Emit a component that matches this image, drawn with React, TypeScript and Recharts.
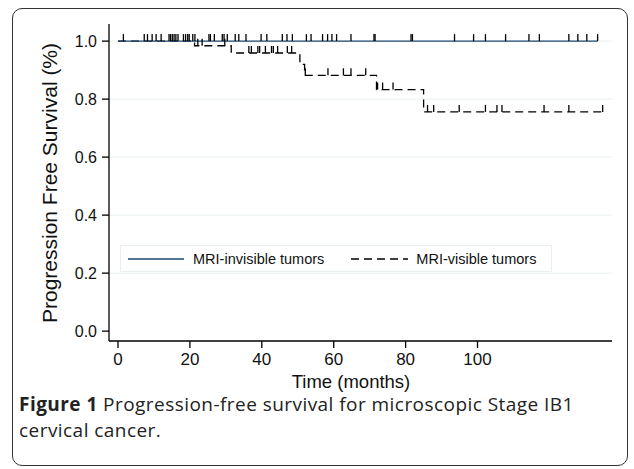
import { ComposedChart, Line, Scatter, XAxis, YAxis, CartesianGrid, Legend } from 'recharts';

// Kaplan-Meier steps (months, survival)
const invisibleTimes = [0, 133.4];
const invisibleSurv = [1, 1];
const visibleTimes = [0, 21.3, 31.5, 50.6, 51.9, 71.9, 85.0, 134.8];
const visibleSurv = [1, 0.984, 0.959, 0.92, 0.882, 0.833, 0.756, 0.756];

// censored observations (months)
const invisibleCensored = [
  1.5, 7.3, 8.2, 9.5, 10.6, 12, 14.2, 14.6, 15.1, 15.6, 16.1, 16.7, 18.2, 18.8, 19.4, 19.8,
  20.8, 21.4, 25.3, 25.7, 26.8, 29.0, 29.5, 30.4, 32.6, 33.6, 35.6, 39.8, 41.4, 45.7, 47.0,
  48.5, 52.4, 53.7, 56.9, 58.3, 59.5, 60.8, 64.8, 71.2, 71.5, 81.5, 81.9, 93.6, 98.9, 102.2,
  107.8, 114.3, 117.2, 125.4, 127.9, 130.4, 133.4,
];
const visibleCensored = [
  22.2, 23.4, 29.7, 36.4, 37.1, 38.9, 39.4, 41.0, 42.7, 43.2, 44.4, 47.1, 48.3, 52.1, 58.4,
  62.7, 64.8, 68.9, 72.2, 73.6, 76.5, 86.1, 87.8, 94.9, 102.2, 105.4, 106.8, 118.5, 125.4, 134.8,
];

const xTicks = [0, 20, 40, 60, 80, 100];
const yTicks = [0, 0.2, 0.4, 0.6, 0.8, 1.0];
const seriesNames = ['MRI-invisible tumors', 'MRI-visible tumors'];

const NAVY = '#1a476f';
const GRID = '#e8eff1';
const FONT = '"Liberation Sans", Arial, sans-serif';

const stepAt = (times: number[], surv: number[], t: number) => {
  let s = surv[0];
  times.forEach((tt, i) => {
    if (tt <= t) s = surv[i];
  });
  return s;
};

const invisibleData = invisibleTimes.map((t, i) => ({ t, s: invisibleSurv[i] }));
const visibleData = visibleTimes.map((t, i) => ({ t, s: visibleSurv[i] }));
const invisibleCens = invisibleCensored.map((t) => ({ t, s: stepAt(invisibleTimes, invisibleSurv, t) }));
const visibleCens = visibleCensored.map((t) => ({ t, s: stepAt(visibleTimes, visibleSurv, t) }));

const censorShape = (color: string) => (props: any) => (
  <line x1={props.cx} x2={props.cx} y1={props.cy} y2={props.cy - 7} stroke={color} strokeWidth={1.3} />
);

function KmLegend() {
  return (
    <div
      style={{
        boxSizing: 'border-box',
        width: 432,
        height: 27,
        border: `1px solid ${GRID}`,
        background: '#fff',
        display: 'flex',
        alignItems: 'center',
        fontFamily: FONT,
        fontSize: 14.5,
        color: '#111',
      }}
    >
      <svg width={56} height={4} style={{ marginLeft: 7 }}>
        <line x1={0} x2={56} y1={2} y2={2} stroke={NAVY} strokeWidth={1.3} />
      </svg>
      <span style={{ marginLeft: 9 }}>{seriesNames[0]}</span>
      <svg width={57} height={4} style={{ marginLeft: 27 }}>
        <line x1={0} x2={57} y1={2} y2={2} stroke="#000" strokeWidth={1.3} strokeDasharray="8 5" />
      </svg>
      <span style={{ marginLeft: 8 }}>{seriesNames[1]}</span>
    </div>
  );
}

export default function App() {
  return (
    <div style={{ position: 'absolute', left: 0, top: 0, width: 634, height: 469, background: '#fff', overflow: 'hidden' }}>
      <div
        style={{
          position: 'absolute',
          left: 12,
          top: 8,
          width: 616,
          height: 458,
          border: '1.5px solid #333',
          borderRadius: 10,
          boxSizing: 'border-box',
        }}
      />
      <ComposedChart
        width={634}
        height={469}
        margin={{ top: 24, right: 22, bottom: 71, left: 49 }}
        style={{ position: 'absolute', left: 0, top: 0 }}
      >
        <CartesianGrid vertical={false} stroke={GRID} strokeWidth={1} horizontalValues={[0.2, 0.4, 0.6, 0.8, 1.0]} />
        <XAxis
          type="number"
          dataKey="t"
          domain={[-2.5, 137.4]}
          ticks={xTicks}
          allowDataOverflow
          height={30}
          tickSize={7}
          tickMargin={5}
          axisLine={{ stroke: '#000', strokeWidth: 1.3 }}
          tickLine={{ stroke: '#000', strokeWidth: 1.3 }}
          tick={{ fill: '#111', fontSize: 17, fontFamily: FONT }}
        />
        <YAxis
          type="number"
          dataKey="s"
          domain={[-0.034, 1.059]}
          ticks={yTicks}
          allowDataOverflow
          width={60}
          tickSize={7}
          tickMargin={5}
          tickFormatter={(v: number) => v.toFixed(1)}
          axisLine={{ stroke: '#000', strokeWidth: 1.3 }}
          tickLine={{ stroke: '#000', strokeWidth: 1.3 }}
          tick={{ fill: '#111', fontSize: 16, fontFamily: FONT }}
        />
        <Legend
          content={() => <KmLegend />}
          wrapperStyle={{ position: 'absolute', left: 120, top: 245, width: 432, height: 27 }}
        />
        <Line
          data={visibleData}
          dataKey="s"
          name={seriesNames[1]}
          type="stepAfter"
          stroke="#000"
          strokeWidth={1.3}
          strokeDasharray="8 5"
          dot={false}
          isAnimationActive={false}
        />
        <Line
          data={invisibleData}
          dataKey="s"
          name={seriesNames[0]}
          type="stepAfter"
          stroke={NAVY}
          strokeWidth={1.4}
          dot={false}
          isAnimationActive={false}
        />
        <Scatter data={visibleCens} dataKey="s" legendType="none" shape={censorShape('#000')} isAnimationActive={false} />
        <Scatter data={invisibleCens} dataKey="s" legendType="none" shape={censorShape('#000')} isAnimationActive={false} />
      </ComposedChart>
      <div
        style={{
          position: 'absolute',
          left: 50,
          top: 183,
          transform: 'translate(-50%, -50%) rotate(-90deg)',
          whiteSpace: 'nowrap',
          fontFamily: FONT,
          fontSize: 21,
          color: '#111',
        }}
      >
        Progression Free Survival (%)
      </div>
      <div
        style={{
          position: 'absolute',
          left: 351,
          top: 380.5,
          transform: 'translate(-50%, -50%)',
          whiteSpace: 'nowrap',
          fontFamily: FONT,
          fontSize: 18.5,
          lineHeight: '19px',
          color: '#111',
        }}
      >
        Time (months)
      </div>
      <div
        style={{
          position: 'absolute',
          left: 19,
          top: 391,
          width: 610,
          fontFamily: '"Open Sans", "Noto Sans", sans-serif',
          fontSize: 19,
          letterSpacing: 0.45,
          lineHeight: '26px',
          color: '#222',
        }}
      >
        <b>Figure 1</b> Progression-free survival for microscopic Stage IB1
        <br />
        cervical cancer.
      </div>
    </div>
  );
}
